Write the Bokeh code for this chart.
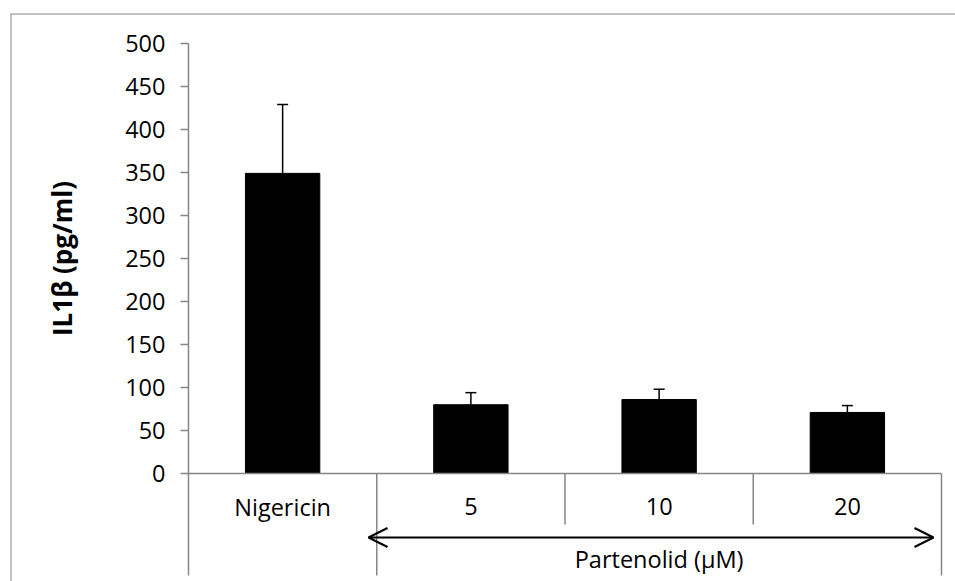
from bokeh.plotting import figure
from bokeh.models import (Range1d, FixedTicker, ColumnDataSource, Whisker, TeeHead,
                          Arrow, OpenHead, Span)
from bokeh.embed import file_html
from bokeh.resources import INLINE
from bokeh.core.properties import value

# IL-1beta release after Nigericin and Partenolid treatment
categories = ["Nigericin", "5", "10", "20"]
il1b_mean = [349, 80, 86, 71]
il1b_err = [80, 14, 12, 8]
y_ticks = [0, 50, 100, 150, 200, 250, 300, 350, 400, 450, 500]
group_label = "Partenolid (\u00b5M)"
y_title = "IL1\u03b2 (pg/ml)"

# page geometry (pixels)
W, H = 955, 581
FRAME_LEFT, FRAME_TOP = 10, 13          # chart-area border
AXIS_X = 188                            # value axis position
TOP_Y, ZERO_Y = 43, 473                 # pixel rows of y=500 and y=0
CAT_W = 188.25                          # width of one category slot
Y_MAX = 500
PPU = (ZERO_Y - TOP_Y) / Y_MAX          # pixels per unit


def ydata(py):
    return (ZERO_Y - py) / PPU


def xdata(px):
    return (px - AXIS_X) / CAT_W


FONT = "Open Sans"
FONT_SIZE = "23.5px"
GRAY = "#868686"

x_range = Range1d(xdata(FRAME_LEFT), xdata(W))
y_range = Range1d(ydata(H), ydata(FRAME_TOP))

p = figure(width=W, height=H, x_range=x_range, y_range=y_range,
           output_backend="svg", toolbar_location=None, x_axis_location=None,
           min_border_left=FRAME_LEFT, min_border_top=FRAME_TOP,
           min_border_right=0, min_border_bottom=0)
p.outline_line_color = None
p.grid.visible = False
p.background_fill_color = "white"
p.border_fill_color = "white"

xs = [i + 0.5 for i in range(len(categories))]
src = ColumnDataSource(dict(x=xs, cat=categories, mean=il1b_mean,
                            upper=[m + e for m, e in zip(il1b_mean, il1b_err)]))

# value axis drawn at the left edge of the category area
ax = p.yaxis[0]
ax.fixed_location = 0
ax.bounds = (0, Y_MAX)
ax.ticker = FixedTicker(ticks=y_ticks)
ax.minor_tick_line_color = None
ax.major_tick_in = 0
ax.major_tick_out = 8
ax.major_tick_line_color = GRAY
ax.major_tick_line_width = 1.5
ax.axis_line_color = GRAY
ax.axis_line_width = 1.5
ax.major_label_standoff = 15
ax.major_label_text_font = FONT
ax.major_label_text_font_size = FONT_SIZE
ax.major_label_text_color = "black"
ax.axis_label = y_title
ax.axis_label_text_font = FONT
ax.axis_label_text_font_style = "bold"
ax.axis_label_text_font_size = "26px"
ax.axis_label_text_color = "black"
ax.axis_label_standoff = 42

# outer chart border
p.add_layout(Span(location=ydata(FRAME_TOP), dimension="width",
                  line_color=GRAY, line_width=2))
p.add_layout(Span(location=xdata(FRAME_LEFT), dimension="height",
                  line_color=GRAY, line_width=2))

# bars and upper error bars
p.vbar(x="x", top="mean", bottom=0, width=0.395, source=src,
       fill_color="black", line_color="black")
p.add_layout(Whisker(base="x", lower="mean", upper="upper", source=src,
                     lower_head=None,
                     upper_head=TeeHead(size=11, line_width=1.5, line_color="black"),
                     line_color="black", line_width=1.5, level="glyph"))

# category axis line and cell dividers
n = len(categories)
p.segment(x0=[0], y0=[0], x1=[n], y1=[0], line_color=GRAY, line_width=1.5)
p.segment(x0=[0, 1, n], y0=[0, 0, 0], x1=[0, 1, n], y1=[ydata(575)] * 3,
          line_color=GRAY, line_width=1.5)
p.segment(x0=[2, 3], y0=[0, 0], x1=[2, 3], y1=[ydata(524)] * 2,
          line_color=GRAY, line_width=1.5)

# category labels
p.text(x="x", y=ydata(506), text="cat", source=src, text_align="center",
       text_baseline="middle", text_font=value(FONT), text_font_size=FONT_SIZE,
       text_color="black")

# dose range arrow and its label
p.add_layout(Arrow(x_start=xdata(368), y_start=ydata(537),
                   x_end=xdata(933), y_end=ydata(537),
                   start=OpenHead(size=19, line_width=2, line_color="black"),
                   end=OpenHead(size=19, line_width=2, line_color="black"),
                   line_width=2, line_color="black"))
p.text(x=[2.5], y=[ydata(558)], text=[group_label], text_align="center",
       text_baseline="middle", text_font=value(FONT), text_font_size=FONT_SIZE,
       text_color="black")

open("out.html", "w").write(file_html(p, INLINE))
